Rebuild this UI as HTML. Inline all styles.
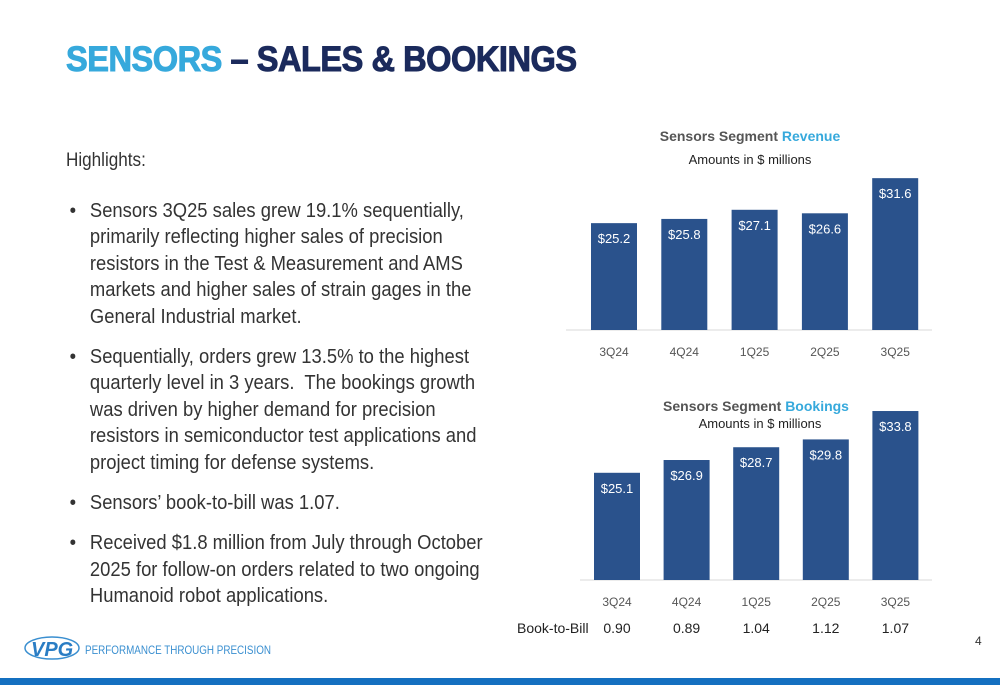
<!DOCTYPE html>
<html><head><meta charset="utf-8"><style>
body{margin:0;width:1000px;height:685px;overflow:hidden;background:#fff;font-family:"Liberation Sans",sans-serif;position:relative}
.t{position:absolute;left:66px;top:40px;font-size:35px;font-weight:900;letter-spacing:-0.5px;color:#1b2a5c;transform:scaleX(0.93);transform-origin:left;-webkit-text-stroke:1px currentColor}
.t span{color:#36a9dc}
.hl{position:absolute;left:66px;top:150px;font-size:19px;color:#333;transform:scaleX(0.9);transform-origin:left}
ul{position:absolute;left:66px;top:198px;margin:0;padding:0;list-style:none;font-size:20px;line-height:26.4px;color:#333;width:460px;transform:scaleX(0.92);transform-origin:left}
li{position:relative;padding-left:26px;margin-bottom:14px}
li:before{content:"•";position:absolute;left:4px}
svg{position:absolute;left:0;top:0}
</style></head><body>
<div class="t"><span>SENSORS</span> – SALES &amp; BOOKINGS</div>
<div class="hl">Highlights:</div>
<ul>
<li>Sensors 3Q25 sales grew 19.1% sequentially, primarily reflecting higher sales of precision resistors in the Test &amp; Measurement and AMS markets and higher sales of strain gages in the General Industrial market.</li>
<li>Sequentially, orders grew 13.5% to the highest quarterly level in 3 years.&nbsp; The bookings growth was driven by higher demand for precision resistors in semiconductor test applications and project timing for defense systems.</li>
<li>Sensors’ book-to-bill was 1.07.</li>
<li>Received $1.8 million from July through October 2025 for follow-on orders related to two ongoing Humanoid robot applications.</li>
</ul>
<svg id="c" width="1000" height="685">
<text x="750" y="141" text-anchor="middle" font-size="14" font-weight="bold" fill="#555">Sensors Segment <tspan fill="#36a9dc">Revenue</tspan></text>
<text x="750" y="164" text-anchor="middle" font-size="13" fill="#222">Amounts in $ millions</text>
<text x="756" y="411" text-anchor="middle" font-size="14" font-weight="bold" fill="#555">Sensors Segment <tspan fill="#36a9dc">Bookings</tspan></text>
<text x="760" y="428" text-anchor="middle" font-size="13" fill="#222">Amounts in $ millions</text>
<text x="517" y="633" font-size="14" fill="#222">Book-to-Bill</text>
<g id="logo">
<ellipse cx="52" cy="648" rx="27" ry="11" fill="none" stroke="#3a8fd0" stroke-width="1.5"/>
<text x="31" y="656" font-size="20" font-weight="900" fill="#2a7dc4" font-style="italic">VPG</text>
<text x="85" y="654" font-size="12" fill="#3a8fd0" textLength="186" lengthAdjust="spacingAndGlyphs">PERFORMANCE THROUGH PRECISION</text>
</g>
<text x="975" y="645" font-size="12" fill="#333">4</text>
<rect x="0" y="678" width="1000" height="7" fill="#1470c0"/>
</svg>
<script>
const categories=["3Q24","4Q24","1Q25","2Q25","3Q25"];
const revenue=[25.2,25.8,27.1,26.6,31.6];
const bookings=[25.1,26.9,28.7,29.8,33.8];
const bookToBill=["0.90","0.89","1.04","1.12","1.07"];
const svg=document.getElementById('c');
const NS="http://www.w3.org/2000/svg";
function mk(tag,attrs,txt){const e=document.createElementNS(NS,tag);for(const k in attrs)e.setAttribute(k,attrs[k]);if(txt!==undefined)e.textContent=txt;svg.appendChild(e);return e;}
function chart(vals,name,x0,step,base,scale,axisY,axisL,axisR,catY){
  const yv=v=>axisY-(v-10)*scale;
  const ax=mk('line',{x1:axisL,x2:axisR,y1:axisY,y2:axisY,stroke:'#d9d9d9','stroke-width':1});
  
  
  vals.forEach((v,i)=>{
    const cx=x0+i*step,top=yv(v);
    const r=mk('rect',{x:cx-23,y:top,width:46,height:axisY-top,fill:'#2a528c'});
    
    
    const l=mk('text',{x:cx,y:top+20,'text-anchor':'middle','font-size':13,fill:'#fff'},'$'+v.toFixed(1));
    
    
    const c=mk('text',{x:cx,y:catY,'text-anchor':'middle','font-size':12,fill:'#555'},categories[i]);
    
    
  });
}
chart(revenue,'revenue',614,70.3,10,7.03,330,566,932,356);
chart(bookings,'bookings',617,69.6,10,7.1,580,580,932,606);
bookToBill.forEach((b,i)=>{
  const t=mk('text',{x:617+i*69.6,y:633,'text-anchor':'middle','font-size':14,fill:'#222'},b);
  
  
});
</script>
</body></html>
